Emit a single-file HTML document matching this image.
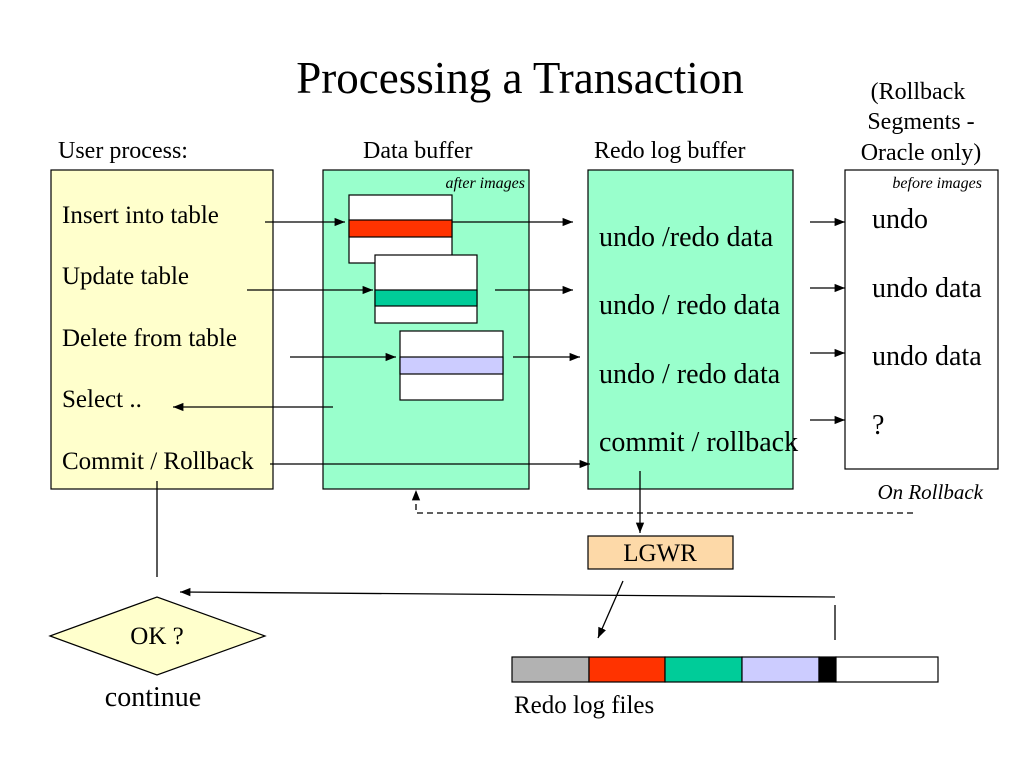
<!DOCTYPE html>
<html><head><meta charset="utf-8"><style>body{margin:0;background:#fff}svg{display:block}text{font-family:"Liberation Serif",serif;fill:#000}</style></head><body>
<svg width="1024" height="768" viewBox="0 0 1024 768" xmlns="http://www.w3.org/2000/svg">
<defs><marker id="a" viewBox="0 0 10 10" refX="10" refY="5" markerWidth="8" markerHeight="8" orient="auto-start-reverse"><path d="M0,1 L10,5 L0,9 z" fill="#000"/></marker></defs>
<text x="520" y="93" font-size="45" text-anchor="middle">Processing a Transaction</text>
<text x="918" y="99" font-size="24" text-anchor="middle">(Rollback</text>
<text x="921" y="129" font-size="24" text-anchor="middle">Segments -</text>
<text x="921" y="160" font-size="24" text-anchor="middle">Oracle only)</text>
<text x="58" y="158" font-size="24">User process:</text>
<text x="363" y="158" font-size="24">Data buffer</text>
<text x="594" y="158" font-size="24">Redo log buffer</text>
<g stroke="#000" stroke-width="1.2">
<rect x="51" y="170" width="222" height="319" fill="#ffffcc"/>
<rect x="323" y="170" width="206" height="319" fill="#99ffcc"/>
<rect x="588" y="170" width="205" height="319" fill="#99ffcc"/>
<rect x="845" y="170" width="153" height="299" fill="#fff"/>
<rect x="349" y="195" width="103" height="68" fill="#fff"/>
<rect x="349" y="220" width="103" height="17" fill="#ff3300"/>
<rect x="375" y="255" width="102" height="68" fill="#fff"/>
<rect x="375" y="290" width="102" height="16" fill="#00cc99"/>
<rect x="400" y="331" width="103" height="69" fill="#fff"/>
<rect x="400" y="357" width="103" height="17" fill="#ccccff"/>
<rect x="588" y="536" width="145" height="33" fill="#fdd9a8"/>
<rect x="512" y="657" width="77" height="25" fill="#b2b2b2"/>
<rect x="589" y="657" width="76" height="25" fill="#ff3300"/>
<rect x="665" y="657" width="77" height="25" fill="#00cc99"/>
<rect x="742" y="657" width="77" height="25" fill="#ccccff"/>
<rect x="819" y="657" width="17" height="25" fill="#000"/>
<rect x="836" y="657" width="102" height="25" fill="#fff"/>
<polygon points="50,636 157,597 265,636 157,675" fill="#ffffcc"/>
</g>
<g stroke="#000" stroke-width="1.3" fill="none">
<line x1="265" y1="222" x2="345" y2="222" marker-end="url(#a)"/>
<line x1="452" y1="222" x2="573" y2="222" marker-end="url(#a)"/>
<line x1="247" y1="290" x2="373" y2="290" marker-end="url(#a)"/>
<line x1="495" y1="290" x2="573" y2="290" marker-end="url(#a)"/>
<line x1="290" y1="357" x2="396" y2="357" marker-end="url(#a)"/>
<line x1="513" y1="357" x2="580" y2="357" marker-end="url(#a)"/>
<line x1="333" y1="407" x2="173" y2="407" marker-end="url(#a)"/>
<line x1="270" y1="464" x2="590" y2="464" marker-end="url(#a)"/>
<line x1="810" y1="222" x2="845" y2="222" marker-end="url(#a)"/>
<line x1="810" y1="288" x2="845" y2="288" marker-end="url(#a)"/>
<line x1="810" y1="353" x2="845" y2="353" marker-end="url(#a)"/>
<line x1="810" y1="420" x2="845" y2="420" marker-end="url(#a)"/>
<line x1="640" y1="471" x2="640" y2="533" marker-end="url(#a)"/>
<polyline points="913,513 416,513 416,490" stroke-dasharray="6,4" marker-end="url(#a)"/>
<line x1="157" y1="481" x2="157" y2="577"/>
<line x1="835" y1="597" x2="180" y2="592" marker-end="url(#a)"/>
<line x1="835" y1="605" x2="835" y2="640"/>
<line x1="623" y1="581" x2="598" y2="638" marker-end="url(#a)"/>
</g>
<text x="525" y="188" font-size="16" font-style="italic" text-anchor="end">after images</text>
<text x="982" y="188" font-size="16" font-style="italic" text-anchor="end">before images</text>
<text x="62" y="223" font-size="25">Insert into table</text>
<text x="62" y="284" font-size="25">Update table</text>
<text x="62" y="346" font-size="25">Delete from table</text>
<text x="62" y="407" font-size="25">Select ..</text>
<text x="62" y="469" font-size="25">Commit / Rollback</text>
<text x="599" y="246" font-size="28">undo /redo data</text>
<text x="599" y="314" font-size="28">undo / redo data</text>
<text x="599" y="383" font-size="28">undo / redo data</text>
<text x="599" y="451" font-size="28">commit / rollback</text>
<text x="872" y="228" font-size="28">undo</text>
<text x="872" y="297" font-size="28">undo data</text>
<text x="872" y="365" font-size="28">undo data</text>
<text x="872" y="434" font-size="28">?</text>
<text x="983" y="499" font-size="21" font-style="italic" text-anchor="end">On Rollback</text>
<text x="660" y="561" font-size="25" text-anchor="middle">LGWR</text>
<text x="157" y="644" font-size="25" text-anchor="middle">OK ?</text>
<text x="153" y="706" font-size="28" text-anchor="middle">continue</text>
<text x="514" y="713" font-size="25">Redo log  files</text>
</svg>
</body></html>
